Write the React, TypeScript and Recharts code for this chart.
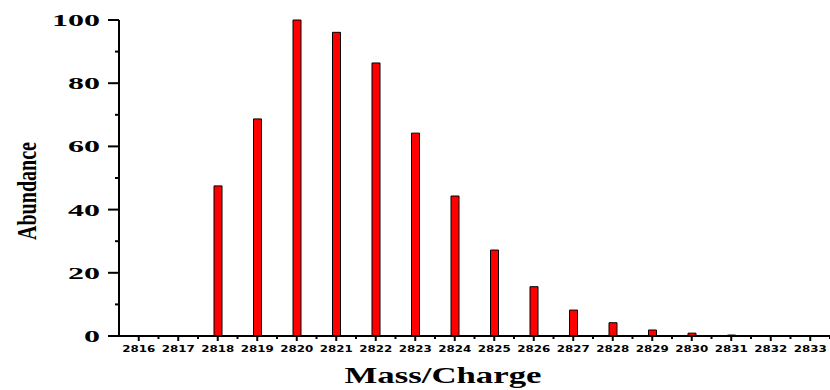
import React from 'react';
import { BarChart, Bar, XAxis, YAxis } from 'recharts';

const massCharge = [
  '2816', '2817', '2818', '2819', '2820', '2821', '2822', '2823', '2824',
  '2825', '2826', '2827', '2828', '2829', '2830', '2831', '2832', '2833',
];
const abundance = [
  0, 0, 47.5, 68.7, 100, 96.1, 86.4, 64.2, 44.3,
  27.2, 15.6, 8.2, 4.2, 1.9, 0.9, 0.3, 0.1, 0.05,
];
const yTicks = [0, 10, 20, 30, 40, 50, 60, 70, 80, 90, 100];

const data = massCharge.map((mz, i) => ({ mz, value: abundance[i] }));

const W = 830;
const H = 390;
const LEFT = 119;
const TOP = 20;
const BOTTOM = 54;
const band = (W - LEFT) / massCharge.length;

function YTick(props: any) {
  const { y, payload } = props;
  const v = payload.value as number;
  const major = v % 20 === 0;
  const label = String(v);
  return (
    <g>
      <line x1={LEFT - (major ? 11 : 4)} x2={LEFT} y1={y} y2={y} stroke="#000" strokeWidth={2} />
      {major && (
        <text
          x={100}
          y={y + 6}
          textAnchor="end"
          fontFamily="'Liberation Serif', serif"
          fontWeight="bold"
          fontSize={17}
          textLength={label.length * 16}
          lengthAdjust="spacingAndGlyphs"
          fill="#000"
        >
          {label}
        </text>
      )}
    </g>
  );
}

function XTick(props: any) {
  const { x, payload } = props;
  const axisY = H - BOTTOM;
  return (
    <g>
      <line x1={x} x2={x} y1={axisY} y2={axisY + 5} stroke="#000" strokeWidth={2} />
      <line x1={x + band / 2} x2={x + band / 2} y1={axisY} y2={axisY + 3} stroke="#000" strokeWidth={2} />
      <text
        x={x}
        y={352}
        textAnchor="middle"
        fontFamily="'DejaVu Sans', sans-serif"
        fontWeight="bold"
        fontSize={8}
        textLength={33}
        lengthAdjust="spacingAndGlyphs"
        fill="#000"
      >
        {payload.value}
      </text>
    </g>
  );
}

export default function App() {
  return (
    <div style={{ position: 'absolute', left: 0, top: 0, width: W, height: H, background: '#fff' }}>
      <BarChart width={W} height={H} data={data} margin={{ top: TOP, right: 0, left: 0, bottom: 0 }}>
        <XAxis
          dataKey="mz"
          height={BOTTOM}
          tick={<XTick />}
          tickLine={false}
          axisLine={{ stroke: '#000', strokeWidth: 2 }}
          interval={0}
        />
        <YAxis
          width={LEFT}
          domain={[0, 100]}
          ticks={yTicks}
          tick={<YTick />}
          tickLine={false}
          axisLine={{ stroke: '#000', strokeWidth: 2 }}
          interval={0}
        />
        <Bar dataKey="value" fill="#ff0000" stroke="#000" strokeWidth={1} barSize={8} isAnimationActive={false} />
      </BarChart>
      <svg width={W} height={H} style={{ position: 'absolute', left: 0, top: 0, pointerEvents: 'none' }}>
        <text
          x={36}
          y={191}
          transform="rotate(-90, 36, 191)"
          textAnchor="middle"
          fontFamily="'Liberation Serif', serif"
          fontWeight="bold"
          fontSize={28}
          textLength={98}
          lengthAdjust="spacingAndGlyphs"
          fill="#000"
        >
          Abundance
        </text>
        <text
          x={443}
          y={383}
          textAnchor="middle"
          fontFamily="'Liberation Serif', serif"
          fontWeight="bold"
          fontSize={23}
          textLength={197}
          lengthAdjust="spacingAndGlyphs"
          fill="#000"
        >
          Mass/Charge
        </text>
      </svg>
    </div>
  );
}
